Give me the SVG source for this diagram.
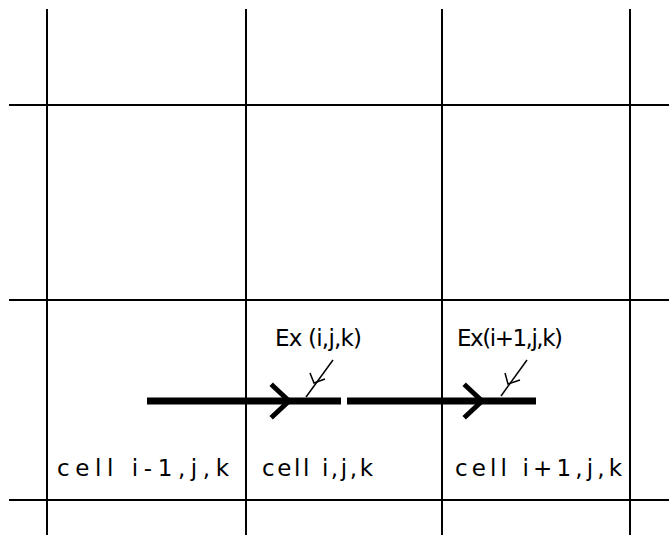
<svg xmlns="http://www.w3.org/2000/svg" width="669" height="535" viewBox="0 0 669 535">
<style>
.grid{stroke:#000;stroke-width:2;fill:none}
.bar{stroke:#000;stroke-width:7;fill:none}
.chev{stroke:#000;stroke-width:5;fill:none;stroke-linecap:square}
.lead{stroke:#000;stroke-width:1.5;fill:none}
text{font-family:"DejaVu Sans","Liberation Sans",sans-serif;font-size:23px;font-weight:normal;fill:#000}
</style>
<rect width="669" height="535" fill="#fff"/>
<g id="grid">
<line class="grid" x1="47" y1="9" x2="47" y2="535"/>
<line class="grid" x1="246" y1="9" x2="246" y2="535"/>
<line class="grid" x1="442" y1="9" x2="442" y2="535"/>
<line class="grid" x1="630" y1="9" x2="630" y2="535"/>
<line class="grid" x1="9" y1="105" x2="669" y2="105"/>
<line class="grid" x1="9" y1="300" x2="669" y2="300"/>
<line class="grid" x1="9" y1="500" x2="669" y2="500"/>
</g>
<g id="cell-im1">
<text x="57" y="476" textLength="172" lengthAdjust="spacing">cell  i-1,j,k</text>
</g>
<g id="cell-i">
<text x="262" y="476" textLength="111" lengthAdjust="spacing">cell  i,j,k</text>
</g>
<g id="cell-ip1">
<text x="455" y="476" textLength="167" lengthAdjust="spacing">cell  i+1,j,k</text>
</g>
<g id="ex-i">
<line class="bar" x1="147" y1="401" x2="341" y2="401"/>
<polyline class="chev" points="273,386 289,401 273,416"/>
<text x="275" y="346" textLength="87" lengthAdjust="spacing">Ex  (i,j,k)</text>
</g>
<g id="ex-ip1">
<line class="bar" x1="347" y1="401" x2="536" y2="401"/>
<polyline class="chev" points="466,386 482,401 466,416"/>
<text x="457" y="346" textLength="106" lengthAdjust="spacing">Ex(i+1,j,k)</text>
</g>
<g id="connectors">
<line class="lead" x1="333" y1="360" x2="306" y2="397"/>
<polyline class="lead" points="310,373 314,383 325,379"/>
<line class="lead" x1="527" y1="360" x2="501" y2="396"/>
<polyline class="lead" points="505,373 508,384 520,380"/>
</g>
</svg>
